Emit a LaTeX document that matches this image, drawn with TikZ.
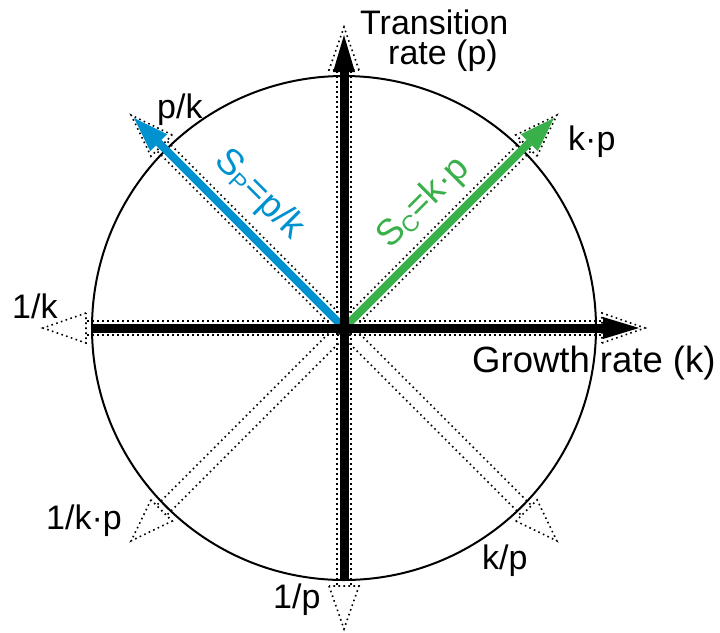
\documentclass[tikz,border=0pt]{standalone}
\usepackage{fontspec}
\setmainfont{Liberation Sans}
\definecolor{bluearr}{RGB}{0,146,207}
\definecolor{greenarr}{RGB}{57,176,74}
\begin{document}
\begin{tikzpicture}[x=1pt,y=-1pt,
  ghost/.style={black, line width=1.6pt, dash pattern=on 1.6pt off 3.4pt},
  lbl/.style={inner sep=0pt, font=\fontsize{34}{40}\selectfont},
  biglbl/.style={inner sep=0pt, font=\fontsize{36.5}{42}\selectfont},
  axisline/.style={black, line width=9pt},
  colline/.style={line width=8pt}]
\useasboundingbox (0,0) rectangle (720,632);
\coordinate (O) at (344,328);
\draw[line width=2pt] (O) circle[radius=252];
% ghost (dotted outline) arrows
\foreach \a in {0,45,...,315}{
  \begin{scope}[shift={(O)}, rotate=\a]
    \draw[ghost] (0,7) -- (258,7) (0,-7) -- (258,-7);
    \draw[ghost] (258,15) -- (301,0) -- (258,-15) -- cycle;
  \end{scope}
}
% coloured arrows
\begin{scope}[shift={(O)}, rotate=135]
  \coordinate (Bs) at (0,0); \coordinate (Bb) at (262,0);
  \draw[colline, bluearr] (Bs) -- (Bb);
  \fill[bluearr] (262,12) -- (297,0) -- (262,-12) -- cycle;
\end{scope}
\begin{scope}[shift={(O)}, rotate=45]
  \coordinate (Gs) at (0,0); \coordinate (Gb) at (262,0);
  \draw[colline, greenarr] (Gs) -- (Gb);
  \fill[greenarr] (262,12) -- (297,0) -- (262,-12) -- cycle;
\end{scope}
% black axes
\coordinate (W) at (92,328);
\coordinate (Eb) at (603,328);
\coordinate (S) at (344,580);
\coordinate (Nb) at (344,72);
\draw[axisline] (W) -- (Eb);
\fill[black] (603,317) -- (639,328) -- (603,339) -- cycle;
\draw[axisline] (S) -- (Nb);
\fill[black] (333,72) -- (344,35) -- (355,72) -- cycle;
% labels
\node[lbl, anchor=base west] (tr1) at (360,34) {Transition};
\node[lbl, anchor=base west] (tr2) at (388,64) {rate (p)};
\node[lbl, anchor=base west] (pk) at (157,118) {p/k};
\node[lbl, anchor=base west] (kp) at (568,150) {k·p};
\node[lbl, anchor=base west] (ik) at (12,318) {1/k};
\node[biglbl, anchor=base west] (gr) at (472,372) {Growth rate (k)};
\node[lbl, anchor=base east] (ikp) at (122,529) {1/k·p};
\node[lbl, anchor=base west] (kop) at (482,569) {k/p};
\node[lbl, anchor=base west] (ip) at (273,608) {1/p};
\node[biglbl, text=bluearr, rotate=-45] (sp) at (259,195) {S\raisebox{-4pt}{\fontsize{23}{23}\selectfont P}=p/k};
\node[biglbl, text=greenarr, rotate=45] (sc) at (424,203) {S\raisebox{-4pt}{\fontsize{23}{23}\selectfont C}=k·p};
\end{tikzpicture}
\end{document}
